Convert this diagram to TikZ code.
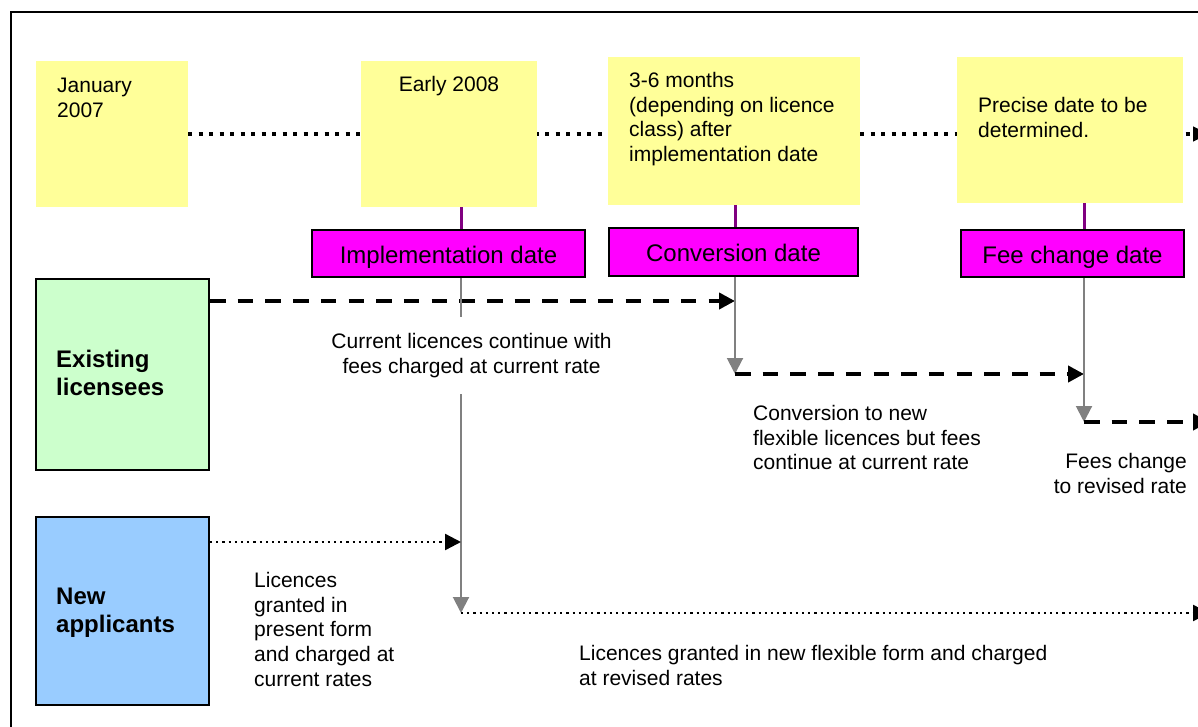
\documentclass[tikz,border=0pt]{standalone}
\usepackage{fontspec}
\setmainfont{Liberation Sans}
\usetikzlibrary{arrows.meta,backgrounds}
\definecolor{yel}{HTML}{FFFF99}
\definecolor{mag}{HTML}{FF00FF}
\definecolor{pur}{HTML}{800080}
\definecolor{grn}{HTML}{CCFFCC}
\definecolor{blu}{HTML}{99CCFF}
\definecolor{gry}{HTML}{808080}
\tikzset{
  ybox/.style={fill=yel, draw=none, inner sep=0pt},
  mbox/.style={fill=mag, draw=black, line width=2pt, inner sep=0pt,
    font=\fontsize{24pt}{28pt}\selectfont, text height=19pt, text depth=0pt},
  gbox/.style={draw=black, line width=2pt, inner sep=0pt},
  body/.style={inner sep=0pt, font=\fontsize{21pt}{24.7pt}\selectfont},
  lbl/.style={inner sep=0pt, align=left, font=\fontsize{24pt}{28pt}\selectfont\bfseries},
  stem/.style={draw=pur, line width=3pt},
  gline/.style={draw=gry, line width=2pt},
  garrow/.style={gline, -{Triangle[length=16pt,width=16pt]}},
  timeline/.style={line width=4pt, dash pattern=on 4pt off 6.5pt, -{Triangle[length=16pt,width=14pt]}},
  dashline/.style={line width=4pt, dash pattern=on 15.5pt off 12.2pt, -{Triangle[length=16pt,width=16pt]}},
  dotline/.style={line width=2.4pt, dash pattern=on 2.2pt off 4pt, -{Triangle[length=16pt,width=16pt]}}
}
\begin{document}
\begin{tikzpicture}[x=1pt,y=-1pt]
\useasboundingbox (0,0) rectangle (1198,727);
% frame
\coordinate (fb) at (11,740);
\coordinate (ft) at (11,12.5);
\coordinate (fr) at (1210,12.5);
\draw[line width=2pt] (fb) -- (ft) -- (fr);

% x positions of the date lines
\coordinate (xi) at (461,0);
\coordinate (xc) at (735,0);
\coordinate (xf) at (1084,0);

% yellow boxes
\node[ybox, minimum width=152pt, minimum height=146pt] (y1) at (112,134) {};
\node[ybox, minimum width=176pt, minimum height=146pt] (y2) at (449,134) {};
\node[ybox, minimum width=252pt, minimum height=148pt] (y3) at (733.5,131) {};
\node[ybox, minimum width=226pt, minimum height=146pt] (y4) at (1070,130) {};

% timeline behind
\coordinate (tlend) at (1209,134);
\begin{pgfonlayer}{background}
\draw[timeline] (y1.east) -- (tlend);
\end{pgfonlayer}

% texts in yellow boxes
\node[body, anchor=north west, align=left] (t1) at (57,78) {January\\2007};
\node[body, anchor=base] (t2) at (449,92) {Early 2008};
\node[body, anchor=north west, align=left] (t3) at (629,72) {3-6 months\\(depending on licence\\class) after\\implementation date};
\node[body, anchor=north west, align=left] (t4) at (978,97) {Precise date to be\\determined.};

% magenta boxes
\node[mbox, minimum width=273pt, minimum height=47pt] (impl) at (448.5,253.5) {Implementation date};
\node[mbox, minimum width=249pt, minimum height=47pt] (conv) at (733.5,252) {Conversion date};
\node[mbox, minimum width=223pt, minimum height=47pt] (fee) at (1072.5,253.5) {Fee change date};

% stems
\draw[stem] (y2.south -| xi) -- (impl.north -| xi);
\draw[stem] (y3.south -| xc) -- (conv.north -| xc);
\draw[stem] (y4.south -| xf) -- (fee.north -| xf);

% group boxes
\node[gbox, fill=grn, minimum width=173pt, minimum height=191pt] (exist) at (122.5,374) {};
\node[gbox, fill=blu, minimum width=173pt, minimum height=188pt] (newap) at (122.5,611) {};
\node[lbl, anchor=north west] (el) at (56,350) {Existing\\licensees};
\node[lbl, anchor=north west] (nl) at (56,588) {New\\applicants};

% body texts
\node[body, anchor=north, align=center, inner ysep=16.5pt] (cur) at (471.5,316.5) {Current licences continue with\\fees charged at current rate};
\node[body, anchor=north west, align=left] (convt) at (753,405) {Conversion to new\\flexible licences but fees\\continue at current rate};
\node[body, anchor=north east, align=right] (feet) at (1187,453) {Fees change\\to revised rate};
\node[body, anchor=north west, align=left] (lic1) at (254,572) {Licences\\granted in\\present form\\and charged at\\current rates};
\node[body, anchor=north west, align=left] (lic2) at (579,645) {Licences granted in new flexible form and charged\\at revised rates};

% coordinates of the flows
\coordinate (e1) at (210,301);
\coordinate (c1) at (735,301);
\coordinate (c2) at (735,374);
\coordinate (f1) at (1084,374);
\coordinate (f2) at (1084,422);
\coordinate (eend) at (1209,422);
\coordinate (n1) at (210,542);
\coordinate (i1) at (461,542);
\coordinate (i2) at (461,613);
\coordinate (nend) at (1209,613);

% existing licensees flow
\draw[dashline] (e1) -- (c1);
\draw[garrow] (conv.south -| xc) -- (c2);
\draw[dashline] (c2) -- (f1);
\draw[garrow] (fee.south -| xf) -- (f2);
\draw[dashline] (f2) -- (eend);

% implementation line
\draw[gline] (impl.south -| xi) -- (xi |- cur.north);
\draw[garrow] (xi |- cur.south) -- (i2);

% new applicants flow
\draw[dotline] (n1) -- (i1);
\draw[dotline] (i2) -- (nend);
\end{tikzpicture}
\end{document}
